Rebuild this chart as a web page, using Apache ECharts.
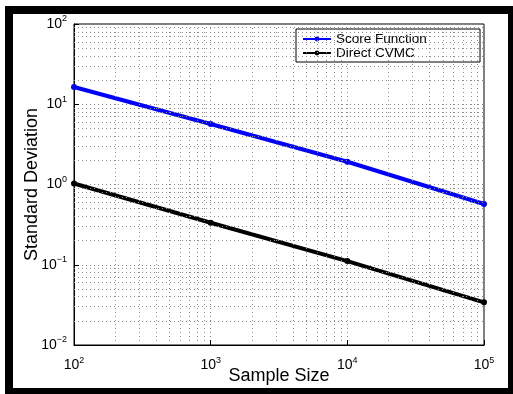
<!DOCTYPE html>
<html>
<head>
<meta charset="utf-8">
<script src="https://cdn.jsdelivr.net/npm/echarts@6/dist/echarts.min.js"></script>
<style>
  html, body { margin: 0; padding: 0; background: #fff; overflow: hidden; }
  #chart { position: absolute; left: 0; top: 0; width: 513px; height: 394px; }
  #frame { position: absolute; left: 5px; top: 6px; width: 495px; height: 374px;
           border: 8px solid #000; pointer-events: none; }
</style>
</head>
<body>
<div id="chart"></div>
<div id="frame"></div>
<script>
// sample sizes and measured standard deviations
const sampleSizes = [100, 1000, 10000, 100000];
const scoreFunction = [16.4, 5.67, 1.92, 0.571];
const directCVMC = [1.03, 0.334, 0.111, 0.034];

// axis range (log10 exponents) and minor grid multipliers
const xExps = [2, 3, 4, 5];
const yExps = [-2, -1, 0, 1, 2];
const minorMult = [2, 3, 4, 5, 6, 7, 8, 9];

const FONT = '"Liberation Sans", Arial, Helvetica, sans-serif';
const GRID_STYLE = { color: '#8c8c8c', width: 1, type: [1, 3] };

function minorValues(exps) {
  const out = [];
  exps.slice(0, -1).forEach(e => minorMult.forEach(m => out.push(m * Math.pow(10, e))));
  return out;
}

function powLabel(v) {
  const e = Math.round(Math.log10(v));
  return '{b|10}{s|' + String(e).replace('-', '\u2212') + '}';
}

const richPow = {
  b: { fontSize: 14, fontFamily: FONT, color: '#000' },
  s: { fontSize: 9, fontFamily: FONT, color: '#000', padding: [0, 0, 10, 0] }
};

const chart = echarts.init(document.getElementById('chart'));

chart.setOption({
  animation: false,
  backgroundColor: '#fff',
  grid: {
    left: 74, right: 29, top: 24, bottom: 49,
    show: true, borderColor: '#000', borderWidth: 1, backgroundColor: '#fff'
  },
  legend: {
    left: 296, top: 29,
    orient: 'vertical',
    itemWidth: 28, itemHeight: 6, itemGap: 0,
    padding: [3, 4, 2, 6],
    backgroundColor: '#fff', borderColor: '#000', borderWidth: 1,
    formatter: '{t|{name}}',
    textStyle: {
      fontSize: 13.5, fontFamily: FONT, color: '#000',
      rich: { t: { width: 140, fontSize: 13.5, fontFamily: FONT, color: '#000', lineHeight: 17 } }
    },
    data: ['Score Function', 'Direct CVMC']
  },
  xAxis: {
    type: 'log', logBase: 10,
    min: Math.pow(10, xExps[0]), max: Math.pow(10, xExps[xExps.length - 1]),
    name: 'Sample Size', nameLocation: 'middle', nameGap: 22, nameMoveOverlap: false,
    nameTextStyle: { fontSize: 18, fontFamily: FONT, color: '#000' },
    axisLine: { lineStyle: { color: '#000', width: 1 } },
    axisTick: { inside: true, length: 5, lineStyle: { color: '#000' } },
    axisLabel: { formatter: powLabel, rich: richPow, margin: 11 },
    splitLine: { show: true, lineStyle: GRID_STYLE }
  },
  yAxis: {
    type: 'log', logBase: 10,
    min: Math.pow(10, yExps[0]), max: Math.pow(10, yExps[yExps.length - 1]),
    name: 'Standard Deviation', nameLocation: 'middle', nameGap: 33, nameMoveOverlap: false,
    nameTextStyle: { fontSize: 18, fontFamily: FONT, color: '#000' },
    axisLine: { lineStyle: { color: '#000', width: 1 } },
    axisTick: { inside: true, length: 5, lineStyle: { color: '#000' } },
    axisLabel: { formatter: powLabel, rich: richPow, margin: 7 },
    splitLine: { show: true, lineStyle: GRID_STYLE }
  },
  series: [
    {
      name: 'minor grid',
      type: 'line',
      data: [],
      silent: true,
      z: 1,
      markLine: {
        silent: true,
        symbol: 'none',
        label: { show: false },
        lineStyle: GRID_STYLE,
        data: minorValues(xExps).map(v => ({ xAxis: v }))
          .concat(minorValues(yExps).map(v => ({ yAxis: v })))
      }
    },
    {
      name: 'Score Function',
      type: 'line',
      z: 3,
      data: sampleSizes.map((x, i) => [x, scoreFunction[i]]),
      symbol: 'circle', symbolSize: 6, showSymbol: true,
      itemStyle: { color: '#0000ff' },
      lineStyle: { color: '#0000ff', width: 4 }
    },
    {
      name: 'Direct CVMC',
      type: 'line',
      z: 3,
      data: sampleSizes.map((x, i) => [x, directCVMC[i]]),
      symbol: 'circle', symbolSize: 6, showSymbol: true,
      itemStyle: { color: '#000' },
      lineStyle: { color: '#000', width: 4 }
    }
  ]
});
</script>
</body>
</html>
